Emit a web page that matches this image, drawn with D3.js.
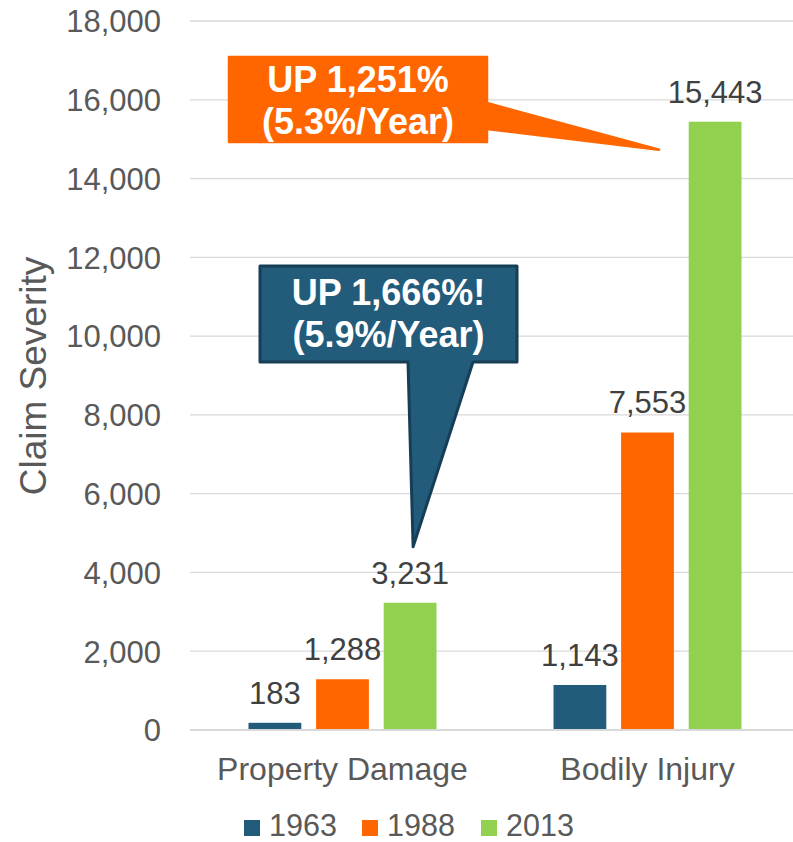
<!DOCTYPE html>
<html>
<head>
<meta charset="utf-8">
<script src="https://cdn.jsdelivr.net/npm/d3@7"></script>
<style>
  html, body { margin: 0; padding: 0; background: #fff; }
  svg { display: block; font-family: "Liberation Sans", Arial, sans-serif; }
</style>
</head>
<body>
<svg id="chart" width="793" height="842"></svg>
<script>
// chart values
var categories = ["Property Damage", "Bodily Injury"];
var years = ["1963", "1988", "2013"];
var sev1963 = [183, 1143];
var sev1988 = [1288, 7553];
var sev2013 = [3231, 15443];
var yTicks = [0, 2000, 4000, 6000, 8000, 10000, 12000, 14000, 16000, 18000];
var colors = {"1963": "#235b7a", "1988": "#ff6600", "2013": "#92d050"};

var callouts = [
    {lines: ["UP 1,251%", "(5.3%/Year)"], fill: "#ff6600", stroke: "#ff6600",
     box: [229, 57, 487, 142], cat: "Bodily Injury", year: "2013", dx: -56, dy: 28, side: "right", base: [103, 129]},
    {lines: ["UP 1,666%!", "(5.9%/Year)"], fill: "#235b7a", stroke: "#163f57",
     box: [260, 266, 517, 362], cat: "Property Damage", year: "2013", dx: 3, dy: -56, side: "bottom", base: [408, 473]}
];

var series = years.map(function (yr, i) {
    var vals = [sev1963, sev1988, sev2013][i];
    return categories.map(function (c, j) { return {cat: c, year: yr, value: vals[j]}; });
});

var svg = d3.select("#chart"),
    plotLeft = 190, plotRight = 800, plotTop = 21, plotBottom = 730;

var x0 = d3.scaleBand().domain(categories).range([plotLeft, plotRight]);
var x1 = d3.scaleBand().domain(years).range([58.5, 246.5]).paddingInner(0.219);
var y = d3.scaleLinear().domain([0, 18000]).range([plotBottom, plotTop]);
var fmt = d3.format(",");

// gridlines
svg.append("g").selectAll("line")
    .data(yTicks.filter(function (t) { return t > 0; }))
    .join("line")
    .attr("x1", plotLeft).attr("x2", plotRight)
    .attr("y1", function (d) { return y(d); }).attr("y2", function (d) { return y(d); })
    .attr("stroke", "#d9d9d9").attr("stroke-width", 1.3);

// y axis labels
var yAxis = svg.append("g")
    .attr("transform", "translate(" + plotLeft + ",0)")
    .call(d3.axisLeft(y).tickValues(yTicks).tickSize(0).tickPadding(29).tickFormat(fmt));
yAxis.select(".domain").remove();
yAxis.selectAll("text")
    .attr("font-size", 31).attr("fill", "#595959")
    .attr("font-family", "Liberation Sans, Arial, sans-serif")
    .attr("dy", "0.35em");

// bars
var barG = svg.append("g");
series.forEach(function (s) {
    barG.selectAll(null).data(s).join("rect")
        .attr("x", function (d) { return x0(d.cat) + x1(d.year); })
        .attr("y", function (d) { return y(d.value); })
        .attr("width", x1.bandwidth())
        .attr("height", function (d) { return y(0) - y(d.value); })
        .attr("fill", function (d) { return colors[d.year]; });
    barG.selectAll(null).data(s).join("text")
        .attr("x", function (d) { return x0(d.cat) + x1(d.year) + x1.bandwidth() / 2; })
        .attr("y", function (d) { return y(d.value) - 19; })
        .attr("text-anchor", "middle")
        .attr("font-size", 31).attr("fill", "#404040")
        .text(function (d) { return fmt(d.value); });
});

// x axis line + category labels
svg.append("line")
    .attr("x1", plotLeft).attr("x2", plotRight).attr("y1", y(0)).attr("y2", y(0))
    .attr("stroke", "#d9d9d9").attr("stroke-width", 2);
svg.append("g").selectAll("text").data(categories).join("text")
    .attr("x", function (d) { return x0(d) + x0.bandwidth() / 2; })
    .attr("y", 780)
    .attr("text-anchor", "middle")
    .attr("font-size", 32).attr("fill", "#595959")
    .text(function (d) { return d; });

// y title
svg.append("text")
    .attr("transform", "translate(46,376) rotate(-90)")
    .attr("text-anchor", "middle")
    .attr("font-size", 37).attr("fill", "#595959")
    .text("Claim Severity");

// legend
var legendX = [244, 362, 481];
var legend = svg.append("g").selectAll("g").data(years).join("g")
    .attr("transform", function (d, i) { return "translate(" + legendX[i] + ",0)"; });
legend.append("rect").attr("x", 0).attr("y", 820).attr("width", 16).attr("height", 16)
    .attr("fill", function (d) { return colors[d]; });
legend.append("text").attr("x", 25).attr("y", 836)
    .attr("font-size", 30.5).attr("fill", "#595959")
    .text(function (d) { return d; });

// callouts
callouts.forEach(function (c) {
    var b = c.box,
        tipX = x0(c.cat) + x1(c.year) + x1.bandwidth() / 2 + c.dx,
        tipY = y(sev2013[categories.indexOf(c.cat)]) + c.dy,
        p = d3.path();
    p.moveTo(b[0], b[1]);
    p.lineTo(b[2], b[1]);
    if (c.side === "right") {
        p.lineTo(b[2], c.base[0]);
        p.lineTo(tipX, tipY);
        p.lineTo(b[2], c.base[1]);
        p.lineTo(b[2], b[3]);
        p.lineTo(b[0], b[3]);
    } else {
        p.lineTo(b[2], b[3]);
        p.lineTo(c.base[1], b[3]);
        p.lineTo(tipX, tipY);
        p.lineTo(c.base[0], b[3]);
        p.lineTo(b[0], b[3]);
    }
    p.closePath();
    svg.append("path").attr("d", p.toString())
        .attr("fill", c.fill).attr("stroke", c.stroke)
        .attr("stroke-width", c.side === "bottom" ? 3 : 2.5).attr("stroke-linejoin", "round");
    svg.append("g").selectAll("text").data(c.lines).join("text")
        .attr("x", (b[0] + b[2]) / 2)
        .attr("y", function (d, i) { return b[1] + 35 + i * 42 + (c.side === "bottom" ? 4 : 0); })
        .attr("text-anchor", "middle")
        .attr("font-size", 36).attr("font-weight", "bold").attr("fill", "#fff")
        .text(function (d) { return d; });
});
</script>
</body>
</html>
